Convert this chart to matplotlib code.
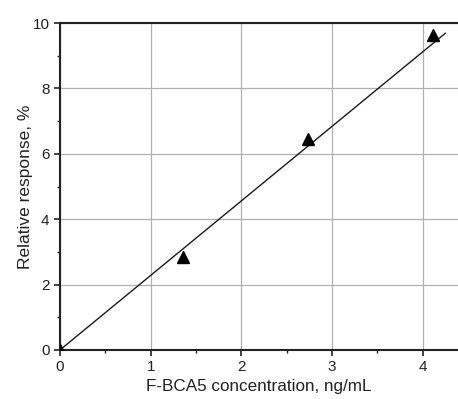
import numpy as np
import matplotlib
matplotlib.use('Agg')
import matplotlib.pyplot as plt
from matplotlib.ticker import MultipleLocator

plt.rcParams['font.family'] = ['Liberation Sans', 'DejaVu Sans']

# measured points
conc = [0.0, 1.36, 2.74, 4.11]
response = [0.0, 2.85, 6.45, 9.63]

# fitted line
fit_x = [0.0, 4.25]
fit_slope = 2.28
fit_intercept = 0.0

fig = plt.figure(figsize=(4.58, 3.99), dpi=100)
ax = fig.add_axes([0.131, 0.123, 0.869, 0.819])

fx = np.array(fit_x)
ax.plot(fx, fit_slope * fx + fit_intercept, color='#1a1a1a', lw=1.0, zorder=3)
ax.plot(conc, response, linestyle='none', marker='^', color='black',
        markersize=9, zorder=4)

ax.set_xlim(0, 4.39)
ax.set_ylim(0, 10)
ax.xaxis.set_major_locator(MultipleLocator(1))
ax.xaxis.set_minor_locator(MultipleLocator(0.5))
ax.yaxis.set_major_locator(MultipleLocator(2))
ax.yaxis.set_minor_locator(MultipleLocator(1))
ax.grid(True, which='major', color='#b0b0b0', lw=0.9)
ax.set_axisbelow(True)

ax.spines['right'].set_visible(False)
for s in ['left', 'bottom', 'top']:
    ax.spines[s].set_linewidth(1.5)
    ax.spines[s].set_color('#222222')
ax.tick_params(which='both', direction='out', top=False, right=False,
               labelsize=11, color='#222222', labelcolor='#222222')
ax.tick_params(which='major', length=4, width=1.2)
ax.tick_params(which='minor', length=2.5, width=1.0)

ax.set_xlabel('F-BCA5 concentration, ng/mL', fontsize=12.3, color='#222222',
              labelpad=3)
ax.set_ylabel('Relative response, %', fontsize=12.5, color='#222222',
              labelpad=0)

fig.savefig('out.png', dpi=100)
